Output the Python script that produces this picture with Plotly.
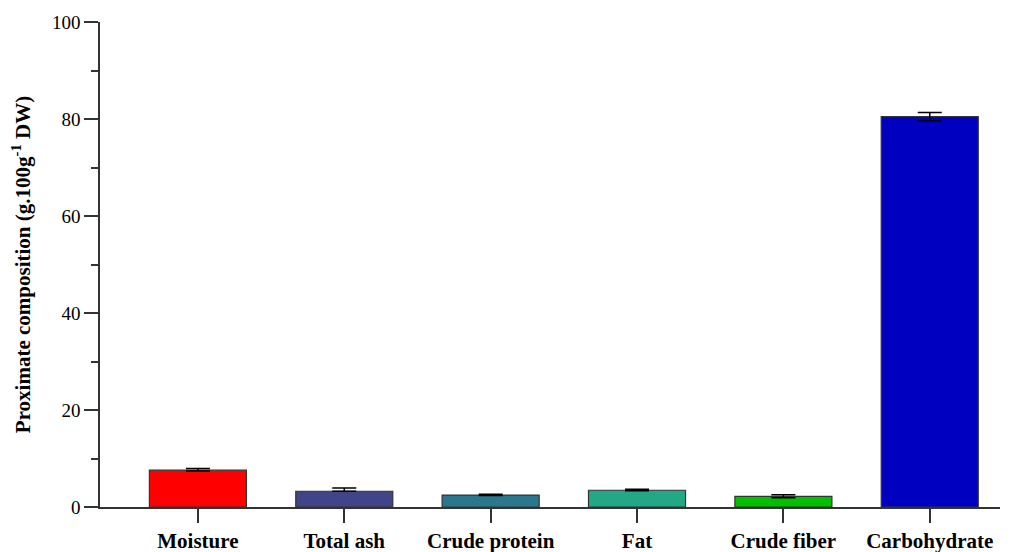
import plotly.graph_objects as go

# Proximate composition of the sample (g per 100 g dry weight)
components = ["Moisture", "Total ash", "Crude protein", "Fat", "Crude fiber", "Carbohydrate"]
means = [7.6, 3.25, 2.45, 3.45, 2.2, 80.5]
errors_plus = [0.35, 0.65, 0.2, 0.2, 0.35, 0.85]
errors_minus = [0.2, 0.0, 0.1, 0.1, 0.3, 0.85]
bar_colors = ["#FF0000", "#3F4587", "#2A788E", "#22A884", "#00C000", "#0000C0"]

y_title = "Proximate composition (g.100g<sup>-1</sup> DW)"
serif = "Liberation Serif, Times New Roman, serif"

fig = go.Figure()
fig.add_trace(go.Bar(
    x=components,
    y=means,
    marker=dict(color=bar_colors, line=dict(color="#333333", width=1.2)),
    error_y=dict(type="data", symmetric=False, array=errors_plus, arrayminus=errors_minus,
                 visible=True, color="black", thickness=1.5, width=12),
    showlegend=False,
))

fig.update_layout(
    width=1016, height=552,
    margin=dict(l=100, r=16, t=22, b=45),
    plot_bgcolor="white", paper_bgcolor="white",
    bargap=0.337,
    font=dict(family=serif, color="black"),
)

fig.update_xaxes(
    type="category",
    range=[-0.669, 5.48],
    automargin=False,
    showline=True, linecolor="#333333", linewidth=1.5,
    ticks="outside", ticklen=14, tickwidth=1.5, tickcolor="#333333",
    tickfont=dict(family=serif, size=21, color="black", weight="bold"),
    showgrid=False, zeroline=False,
)

fig.update_yaxes(
    range=[0, 100],
    automargin=False,
    tickvals=[0, 20, 40, 60, 80, 100],
    showline=True, linecolor="#333333", linewidth=1.5,
    ticks="outside", ticklen=14, tickwidth=1.5, tickcolor="#333333",
    tickfont=dict(family=serif, size=19, color="black"),
    minor=dict(tickvals=[10, 30, 50, 70, 90], ticks="outside", ticklen=7,
               tickwidth=1.5, tickcolor="#333333", showgrid=False),
    showgrid=False, zeroline=False,
    title=dict(text=y_title, font=dict(family=serif, size=21, color="black", weight="bold"),
               standoff=16),
)

fig.write_html("out.html")
